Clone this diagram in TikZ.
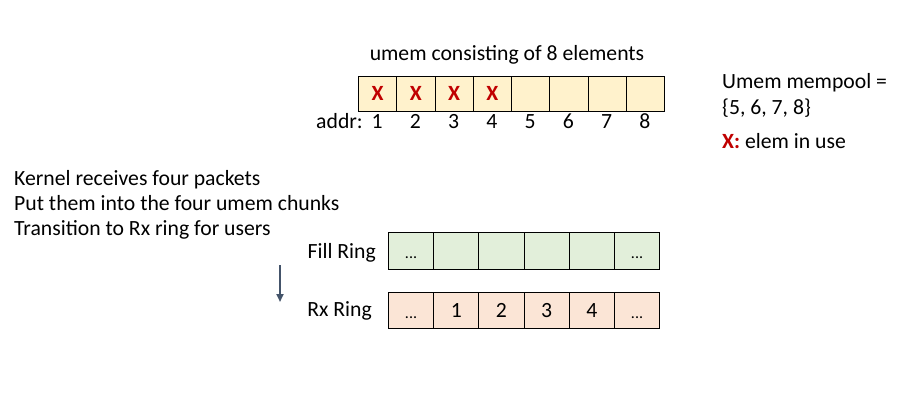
\documentclass[tikz,border=0pt]{standalone}
\usepackage{fontspec}
\setmainfont{Carlito}
\usetikzlibrary{arrows.meta}
\definecolor{cellY}{HTML}{FFF2CC}
\definecolor{cellG}{HTML}{E2EFDA}
\definecolor{cellO}{HTML}{FBE5D6}
\definecolor{xred}{HTML}{C00000}
\definecolor{arr}{HTML}{44546A}
\tikzset{
  txt/.style={inner sep=0pt, font=\fontsize{21.7}{26}\selectfont},
  ucell/.style={draw=black, line width=0.9pt, fill=cellY, minimum width=38.25pt, minimum height=35pt, inner sep=0pt, anchor=north west},
  fcell/.style={draw=black, line width=0.9pt, fill=cellG, minimum width=45.2pt, minimum height=37pt, inner sep=0pt, anchor=north west},
  rcell/.style={draw=black, line width=0.9pt, fill=cellO, minimum width=45.2pt, minimum height=36pt, inner sep=0pt, anchor=north west},
  dots/.style={inner sep=0pt, anchor=base, font=\fontsize{16}{20}\selectfont},
  xmark/.style={inner sep=0pt, anchor=base, text=xred, font=\fontsize{21.7}{26}\selectfont\bfseries},
}
\begin{document}
\begin{tikzpicture}[x=1pt,y=-1pt]
\useasboundingbox (0,0) rectangle (924,405);
\fill[white] (0,0) rectangle (924,405);
% umem
\node[txt, anchor=base] (title) at (507,60) {umem consisting of 8 elements};
\foreach \i in {1,...,8} {
  \node[ucell] (u\i) at ({358+38.25*(\i-1)},76) {};
  \node[txt, anchor=base] (a\i) at ({358+38.25*(\i-0.5)},128) {\i};
}
\foreach \i in {1,...,4} { \node[xmark] (x\i) at ([yshift=-7pt]u\i.center) {X}; }
\node[txt, anchor=base east] (addr) at (363,128) {addr:};
% right legend
\node[txt, anchor=base west] (pool1) at (722,88) {Umem mempool =};
\node[txt, anchor=base west] (pool2) at (722,114) {\{5, 6, 7, 8\}};
\node[txt, anchor=base west] (leg) at (722,148) {\textcolor{xred}{\bfseries X:} elem in use};
% left text
\node[txt, anchor=base west] (l1) at (14,185) {Kernel receives four packets};
\node[txt, anchor=base west] (l2) at (14,210) {Put them into the four umem chunks};
\node[txt, anchor=base west] (l3) at (14,235) {Transition to Rx ring for users};
% rings
\node[txt, anchor=base east] (fl) at (376,258) {Fill Ring};
\node[txt, anchor=base east] (rl) at (372,316) {Rx Ring};
\foreach \i in {1,...,6} {
  \node[fcell] (f\i) at ({388+45.2*(\i-1)},232) {};
  \node[rcell] (r\i) at ({388+45.2*(\i-1)},292) {};
}
\node[dots] (fd1) at ([yshift=-8pt]f1.center) {...};
\node[dots] (fd6) at ([yshift=-8pt]f6.center) {...};
\node[dots] (rd1) at ([yshift=-8pt]r1.center) {...};
\node[dots] (rd6) at ([yshift=-8pt]r6.center) {...};
\foreach \i/\n in {2/1,3/2,4/3,5/4} { \node[txt, anchor=base] (rn\n) at ([yshift=-7pt]r\i.center) {\n}; }
\coordinate (as) at (280,265);
\coordinate (ae) at (280,302);
\draw[arr, line width=2pt, -{Triangle[length=8pt,width=7pt]}] (as) -- (ae);
\end{tikzpicture}
\end{document}
